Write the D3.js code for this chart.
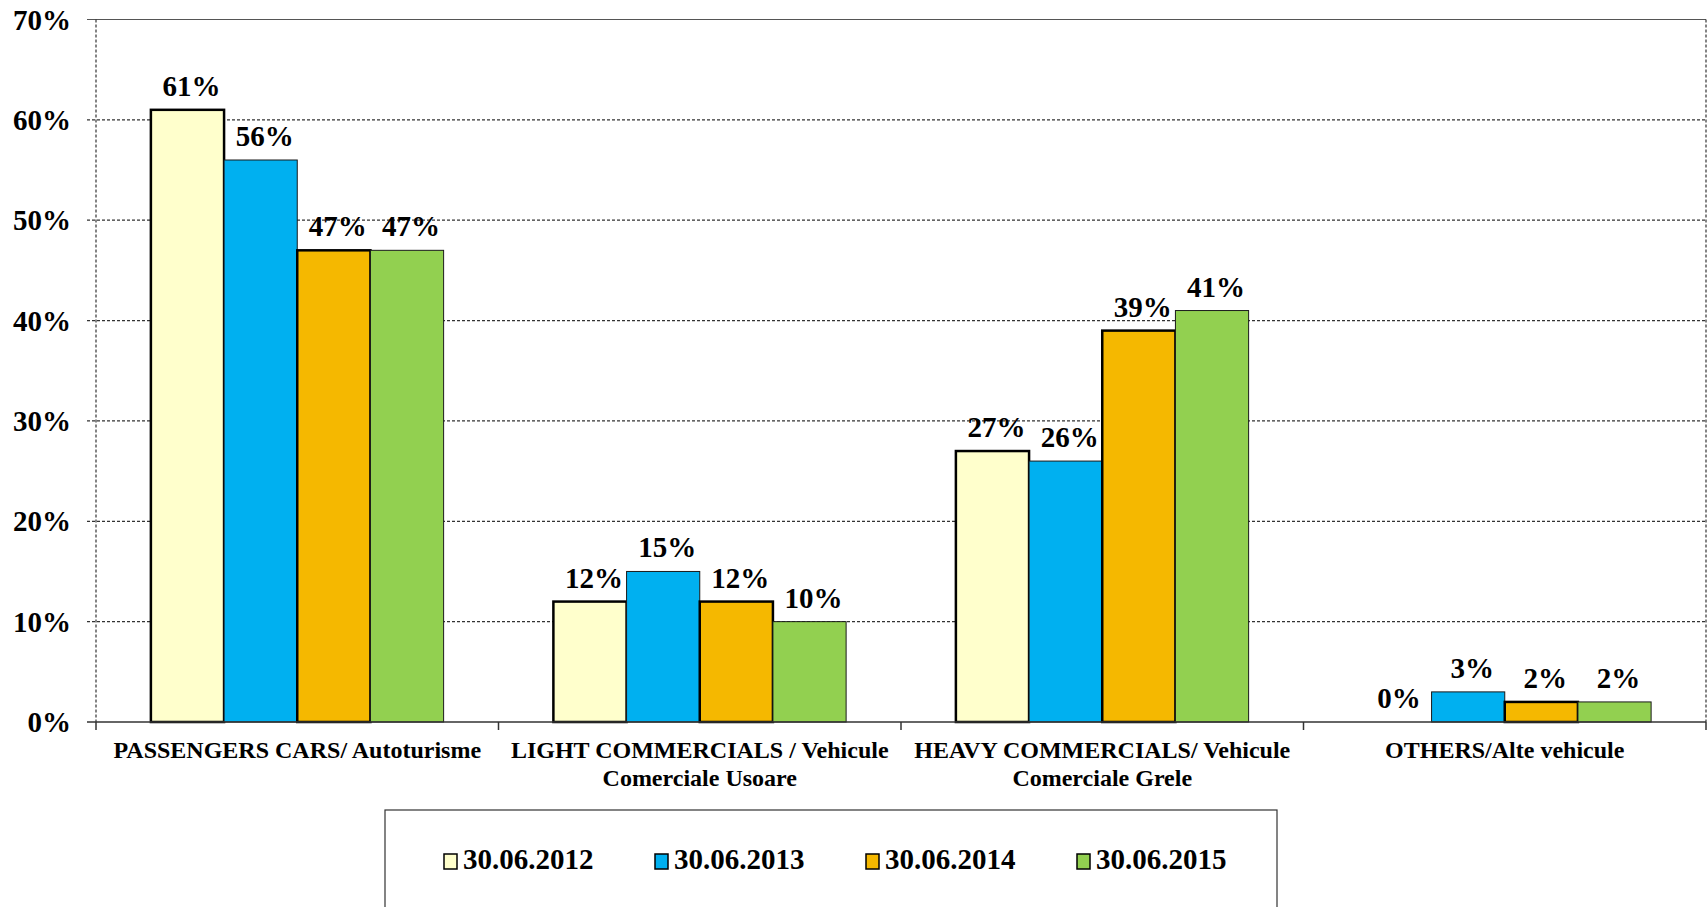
<!DOCTYPE html>
<html>
<head>
<meta charset="utf-8">
<script src="https://cdn.jsdelivr.net/npm/d3@7"></script>
<style>
  body { margin: 0; background: #fff; }
</style>
</head>
<body>
<div id="chart"></div>
<script>
const categories = [
  ['PASSENGERS CARS/ Autoturisme'],
  ['LIGHT COMMERCIALS / Vehicule', 'Comerciale Usoare'],
  ['HEAVY COMMERCIALS/ Vehicule', 'Comerciale Grele'],
  ['OTHERS/Alte vehicule']
];
const series = ['30.06.2012', '30.06.2013', '30.06.2014', '30.06.2015'];
const v2012 = [61, 12, 27, 0];
const v2013 = [56, 15, 26, 3];
const v2014 = [47, 12, 39, 2];
const v2015 = [47, 10, 41, 2];
const yTicks = [0, 10, 20, 30, 40, 50, 60, 70];

const values = [v2012, v2013, v2014, v2015];
const colors = ['#ffffcc', '#00b0f0', '#f5b800', '#92d050'];
const strokes = [{c: '#000', w: 2.5}, {c: '#1a1a1a', w: 1}, {c: '#000', w: 2.5}, {c: '#1a1a1a', w: 1}];

const width = 1708, height = 907;
const margin = {top: 19.5, left: 96, right: 2, bottom: 185};

const svg = d3.select('#chart')
  .append('svg')
  .attr('width', width)
  .attr('height', height)
  .style('font-family', "'Liberation Serif', 'Times New Roman', serif")
  .style('font-weight', 'bold');

const x0 = d3.scaleBand()
  .domain(d3.range(categories.length))
  .range([margin.left, width - margin.right]);
const gap = x0.bandwidth() * 0.75 / 5.5;
const x1 = d3.scaleBand()
  .domain(d3.range(series.length))
  .range([gap, x0.bandwidth() - gap]);
const y = d3.scaleLinear()
  .domain([0, 70])
  .range([height - margin.bottom, margin.top]);

const y0 = y(0);

// gridlines
svg.append('g')
  .selectAll('line')
  .data(yTicks.filter(d => d > 0))
  .join('line')
  .attr('x1', margin.left - 9)
  .attr('x2', width - margin.right)
  .attr('y1', d => y(d))
  .attr('y2', d => y(d))
  .attr('stroke', d => d === 70 ? '#555' : '#333')
  .attr('stroke-width', 1.2)
  .attr('stroke-dasharray', d => d === 70 ? null : '3,2');

// left and right dashed borders
svg.append('g')
  .selectAll('line')
  .data([margin.left, width - margin.right])
  .join('line')
  .attr('x1', d => d).attr('x2', d => d)
  .attr('y1', y(70)).attr('y2', y0)
  .attr('stroke', '#333')
  .attr('stroke-width', 1.2)
  .attr('stroke-dasharray', '3,2');

// y tick labels
svg.append('g')
  .selectAll('text')
  .data(yTicks)
  .join('text')
  .attr('x', 71)
  .attr('y', d => y(d))
  .attr('dy', '0.35em')
  .attr('text-anchor', 'end')
  .style('font-size', '29px')
  .text(d => d + '%');

// bars
const groups = svg.append('g')
  .selectAll('g')
  .data(categories)
  .join('g')
  .attr('transform', (d, i) => `translate(${x0(i)},0)`);

groups.each(function(cat, ci) {
  const g = d3.select(this);
  const rows = series.map((s, si) => ({si, v: values[si][ci]}));
  g.selectAll('rect')
    .data(rows.filter(d => d.v > 0))
    .join('rect')
    .attr('x', d => x1(d.si))
    .attr('width', x1.bandwidth())
    .attr('y', d => y(d.v))
    .attr('height', d => y0 - y(d.v))
    .attr('fill', d => colors[d.si])
    .attr('stroke', d => strokes[d.si].c)
    .attr('stroke-width', d => strokes[d.si].w);
  g.selectAll('text.val')
    .data(rows)
    .join('text')
    .attr('class', 'val')
    .attr('x', d => x1(d.si) + x1.bandwidth() / 2 + 4)
    .attr('y', d => y(d.v) - 14)
    .attr('text-anchor', 'middle')
    .style('font-size', '29px')
    .text(d => d.v + '%');
});

// x axis
svg.append('line')
  .attr('x1', margin.left - 9)
  .attr('x2', width - margin.right)
  .attr('y1', y0).attr('y2', y0)
  .attr('stroke', '#333')
  .attr('stroke-width', 1.5);
svg.append('g')
  .selectAll('line')
  .data(d3.range(categories.length + 1))
  .join('line')
  .attr('x1', i => margin.left + i * x0.step())
  .attr('x2', i => margin.left + i * x0.step())
  .attr('y1', y0).attr('y2', y0 + 8)
  .attr('stroke', '#333')
  .attr('stroke-width', 1.5);

// category labels
groups.append('text')
  .attr('x', x0.bandwidth() / 2)
  .attr('y', y0 + 36)
  .attr('text-anchor', 'middle')
  .style('font-size', '24px')
  .selectAll('tspan')
  .data(d => d)
  .join('tspan')
  .attr('x', x0.bandwidth() / 2)
  .attr('dy', (d, i) => i === 0 ? 0 : 28)
  .text(d => d);

// legend
const legend = svg.append('g');
legend.append('rect')
  .attr('x', 385).attr('y', 810)
  .attr('width', 892).attr('height', 120)
  .attr('fill', '#fff')
  .attr('stroke', '#333')
  .attr('stroke-width', 1.2);
const item = legend.selectAll('g')
  .data(series)
  .join('g')
  .attr('transform', (d, i) => `translate(${444 + i * 211},854)`);
item.append('rect')
  .attr('width', 13).attr('height', 15)
  .attr('fill', (d, i) => colors[i])
  .attr('stroke', '#000')
  .attr('stroke-width', 1.5);
item.append('text')
  .attr('x', 19)
  .attr('y', 15)
  .style('font-size', '29px')
  .text(d => d);
</script>
</body>
</html>
